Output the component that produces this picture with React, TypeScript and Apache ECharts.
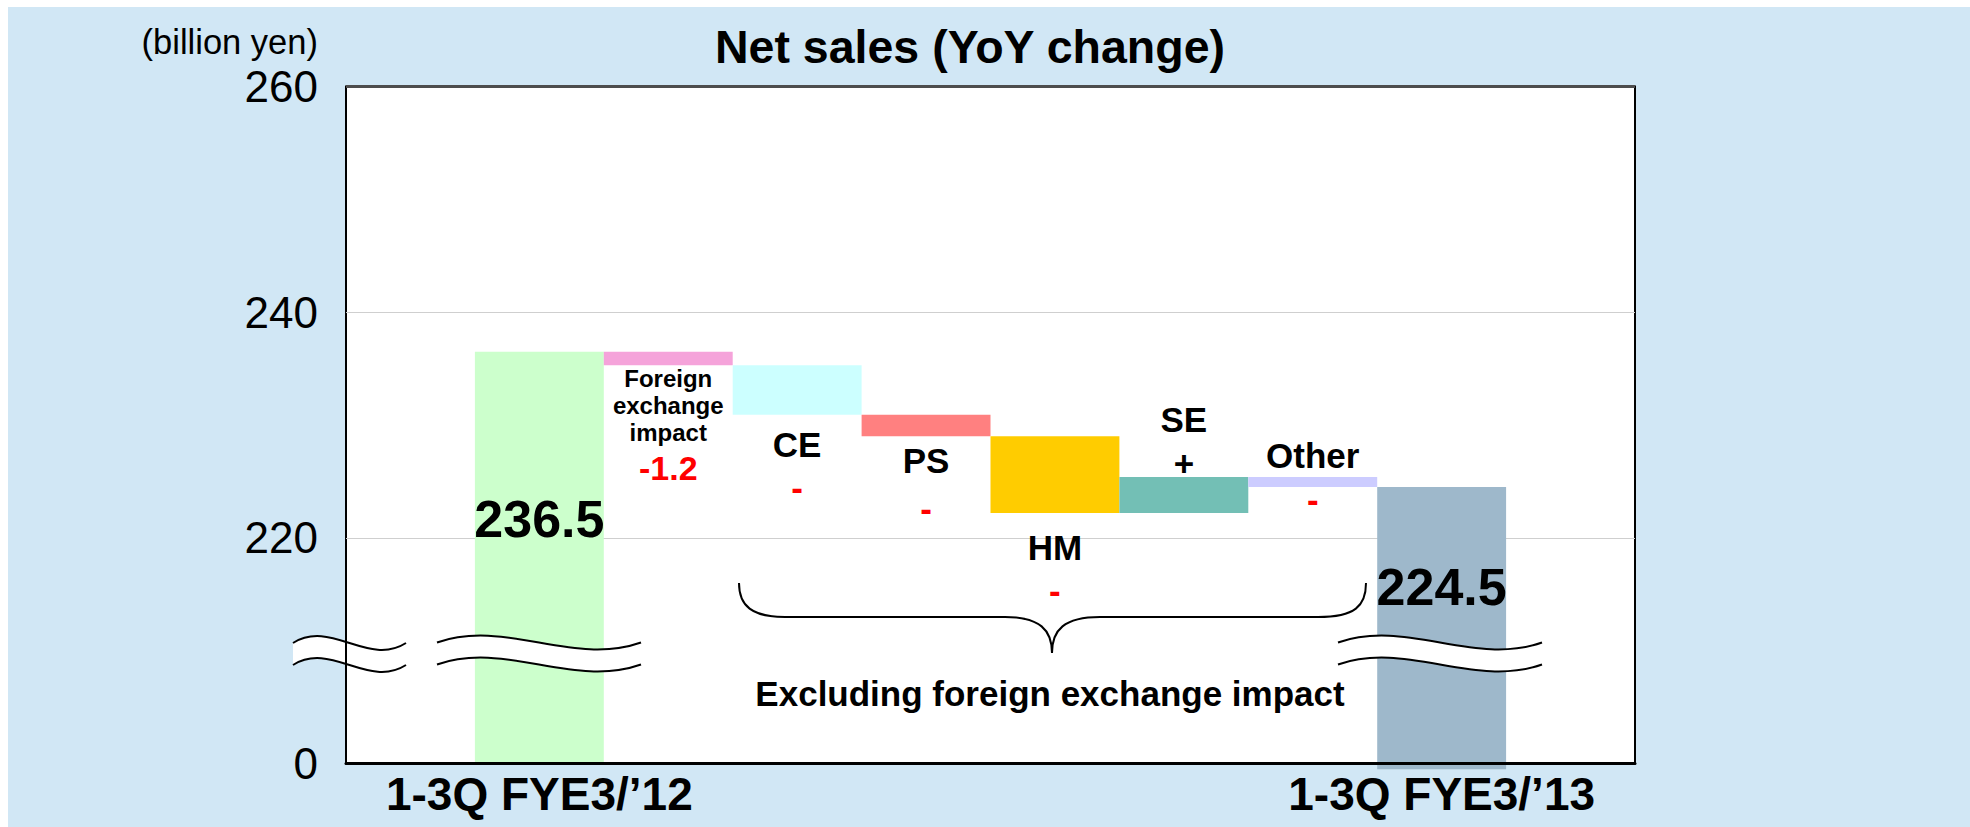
import React, { useEffect, useRef } from 'react';
import * as echarts from 'echarts';

// ---------- data ----------
const categories = ['', '1-3Q FYE3/’12', 'Foreign exchange impact', 'CE', 'PS', 'HM', 'SE', 'Other', '1-3Q FYE3/’13', ''];
const startValue = 236.5;
const endValue = 224.5;
const segmentLabels = ['Foreign\nexchange\nimpact', 'CE', 'PS', 'HM', 'SE', 'Other'];
const segmentChanges = [-1.2, -4.4, -1.9, -6.8, 3.2, -0.9];
// the axis is broken: its floor (200) is drawn as "0"
const yTickValues = [200, 220, 240, 260];
const yTickLabels = ['0', '220', '240', '260'];
const axisFloor = 200;
const axisCeil = 260;
const barColors = ['#ccffcc', '#f5a3da', '#ccffff', '#ff8080', '#ffcc00', '#73bfb5', '#ccccff', '#9eb8cb'];

const FONT = '"Liberation Sans", Arial, Helvetica, sans-serif';
const OX = 8;
const OY = 7;
const px = (x: number) => x - OX;
const py = (y: number) => y - OY;
const GRID = { left: 338, top: 79.5, width: 1289, height: 677 };
const SEG_FONT = 35;

echarts.graphic.registerShape(
  'breakBand',
  echarts.graphic.extendPath('M0,0 C33.333,-24 66.667,24 100,0 L100,22 C66.667,46 33.333,-2 0,22 Z', {})
);

function segLabel(i: number, change: number): any {
  const sign = change < 0 ? '-' : '+';
  const bold = { fontSize: SEG_FONT, fontWeight: 'bold', color: '#000', fontFamily: FONT };
  const signStyle = { fontSize: SEG_FONT, fontWeight: 'bold', color: change < 0 ? '#ff0000' : '#000', fontFamily: FONT };
  const name = segmentLabels[i];
  if (i === 0) {
    return {
      show: true,
      position: 'bottom',
      distance: 0,
      formatter: name.split('\n').map((l) => `{t|${l}}`).join('\n') + `\n{v|${change}}`,
      rich: {
        t: { fontSize: 24, fontWeight: 'bold', color: '#000', lineHeight: 27, fontFamily: FONT },
        v: { fontSize: 34, fontWeight: 'bold', color: '#ff0000', lineHeight: 44, fontFamily: FONT },
      },
    };
  }
  const cfg: Record<number, any> = {
    1: { position: 'bottom', distance: 8.5, n: 43, s: 43 },
    2: { position: 'bottom', distance: 0, n: 48, s: 48 },
    3: { position: 'bottom', distance: 13, n: 43, s: 43 },
    4: { position: 'top', distance: 0, n: 62, s: 26 },
  };
  if (i === 5) {
    return {
      show: true,
      position: 'top',
      distance: 6,
      formatter: `{n|${name}}`,
      rich: { n: { ...bold, lineHeight: 30 } },
    };
  }
  const c = cfg[i];
  return {
    show: true,
    position: c.position,
    distance: c.distance,
    formatter: `{n|${name}}\n{s|${sign}}`,
    rich: { n: { ...bold, lineHeight: c.n }, s: { ...signStyle, lineHeight: c.s } },
  };
}

function buildSeries() {
  const endOverhang = 0.5;
  const base: any[] = ['-'];
  const delta: any[] = ['-'];
  base.push({ value: axisFloor });
  delta.push({
    value: startValue - axisFloor,
    itemStyle: { color: barColors[0] },
    label: {
      show: true,
      position: ['50%', 167],
      align: 'center',
      verticalAlign: 'middle',
      formatter: startValue.toFixed(1),
      fontSize: 52,
      fontWeight: 'bold',
      color: '#000',
      fontFamily: FONT,
    },
  });
  let level = startValue;
  segmentChanges.forEach((c, i) => {
    const next = level + c;
    const isLast = i === segmentChanges.length - 1;
    base.push(
      isLast
        ? {
            value: Math.min(level, next),
            label: {
              show: true,
              position: 'insideTop',
              distance: 0,
              formatter: `{s|${c < 0 ? '-' : '+'}}`,
              rich: { s: { fontSize: SEG_FONT, fontWeight: 'bold', color: '#ff0000', lineHeight: 24, fontFamily: FONT } },
            },
          }
        : { value: Math.min(level, next) }
    );
    delta.push({ value: Math.abs(c), itemStyle: { color: barColors[i + 1] }, label: segLabel(i, c) });
    level = next;
  });
  base.push({ value: axisFloor - endOverhang });
  delta.push({
    value: endValue - axisFloor + endOverhang,
    itemStyle: { color: barColors[7] },
    label: {
      show: true,
      position: ['50%', 100],
      align: 'center',
      verticalAlign: 'middle',
      formatter: endValue.toFixed(1),
      fontSize: 52,
      fontWeight: 'bold',
      color: '#000',
      fontFamily: FONT,
    },
  });
  base.push('-');
  delta.push('-');
  return { base, delta };
}

function wave(x0: number, x1: number, y0: number, z: number) {
  const w = x1 - x0;
  return {
    type: 'bezierCurve',
    z,
    silent: true,
    shape: {
      x1: px(x0), y1: py(y0), x2: px(x1), y2: py(y0),
      cpx1: px(x0 + w / 3), cpy1: py(y0 - 24),
      cpx2: px(x0 + (2 * w) / 3), cpy2: py(y0 + 24),
    },
    style: { stroke: '#000', lineWidth: 2, fill: null },
  };
}

function breakMark(x0: number, x1: number, y0: number, fillZ: number) {
  return [
    { type: 'breakBand', z: fillZ, silent: true, x: px(x0), y: py(y0), scaleX: (x1 - x0) / 100, scaleY: 1, style: { fill: '#fff' } },
    wave(x0, x1, y0, 60),
    wave(x0, x1, y0 + 22, 60),
  ];
}

function curve(p: number[], z = 20) {
  return {
    type: 'bezierCurve', z, silent: true,
    shape: { x1: px(p[0]), y1: py(p[1]), cpx1: px(p[2]), cpy1: py(p[3]), cpx2: px(p[4]), cpy2: py(p[5]), x2: px(p[6]), y2: py(p[7]) },
    style: { stroke: '#000', lineWidth: 2, fill: null },
  };
}
function seg(x1: number, y1: number, x2: number, y2: number, z = 20) {
  return { type: 'line', z, silent: true, shape: { x1: px(x1), y1: py(y1), x2: px(x2), y2: py(y2) }, style: { stroke: '#000', lineWidth: 2 } };
}

export default function App() {
  const ref = useRef<HTMLDivElement>(null);
  useEffect(() => {
    if (!ref.current) return;
    const chart = echarts.init(ref.current, undefined, { renderer: 'svg' });
    const { base, delta } = buildSeries();
    const option: any = {
      animation: false,
      backgroundColor: '#d1e7f5',
      textStyle: { fontFamily: FONT },
      grid: {
        left: GRID.left, top: GRID.top, width: GRID.width, height: GRID.height,
        show: true, backgroundColor: '#fff', borderColor: '#000', borderWidth: 2,
      },
      xAxis: {
        type: 'category',
        data: categories,
        axisLine: { show: true, lineStyle: { color: '#000', width: 3 } },
        axisTick: { show: false },
        axisLabel: {
          interval: 0,
          margin: 7,
          fontSize: 46,
          fontWeight: 'bold',
          color: '#000',
          fontFamily: FONT,
          formatter: (v: string, i: number) => (i === 1 || i === categories.length - 2 ? v : ''),
        },
        z: 5,
      },
      yAxis: {
        type: 'value',
        min: axisFloor,
        max: axisCeil,
        interval: 20,
        axisLine: { show: false },
        axisTick: { show: false },
        splitLine: { show: true, lineStyle: { color: '#cfcfcf', width: 1 } },
        axisLabel: {
          margin: 28,
          fontSize: 44,
          color: '#000',
          fontFamily: FONT,
          formatter: (v: number) => {
            const k = yTickValues.indexOf(v);
            return k >= 0 ? yTickLabels[k] : '';
          },
        },
      },
      series: [
        { name: 'base', type: 'bar', stack: 'w', data: base, barCategoryGap: 0, clip: false, itemStyle: { color: 'rgba(0,0,0,0)' } },
        { name: 'change', type: 'bar', stack: 'w', data: delta, barCategoryGap: 0, clip: false },
      ],
      graphic: [
        {
          type: 'text', z: 20, silent: true, x: px(970), y: py(47),
          style: { text: 'Net sales (YoY change)', fontSize: 46.5, fontWeight: 'bold', fontFamily: FONT, fill: '#000', align: 'center', verticalAlign: 'middle' },
        },
        {
          type: 'text', z: 20, silent: true, x: px(318), y: py(41.5),
          style: { text: '(billion yen)', fontSize: 34.5, fontFamily: FONT, fill: '#000', align: 'right', verticalAlign: 'middle' },
        },
        {
          type: 'text', z: 20, silent: true, x: px(1050), y: py(693),
          style: { text: 'Excluding foreign exchange impact', fontSize: 35, fontWeight: 'bold', fontFamily: FONT, fill: '#000', align: 'center', verticalAlign: 'middle' },
        },
        {
          type: 'line', z: 30, silent: true,
          shape: { x1: GRID.left, y1: GRID.top, x2: GRID.left + GRID.width, y2: GRID.top },
          style: { stroke: '#4d4d4d', lineWidth: 3 },
        },
        // brace
        curve([739, 583, 739, 606, 752, 617, 785, 617]),
        seg(785, 617, 1005, 617),
        curve([1005, 617, 1040, 617, 1052, 630, 1052, 653]),
        curve([1052, 653, 1052, 630, 1064, 617, 1100, 617]),
        seg(1100, 617, 1318, 617),
        curve([1318, 617, 1355, 617, 1366, 606, 1366, 583]),
        // axis-break marks
        ...breakMark(293, 406, 643, -1),
        ...breakMark(437, 641, 642.5, 50),
        ...breakMark(1338, 1542, 642.5, 50),
      ],
    };
    chart.setOption(option);
    return () => chart.dispose();
  }, []);
  return <div ref={ref} style={{ position: 'fixed', left: OX, top: OY, width: 1962, height: 820 }} />;
}
